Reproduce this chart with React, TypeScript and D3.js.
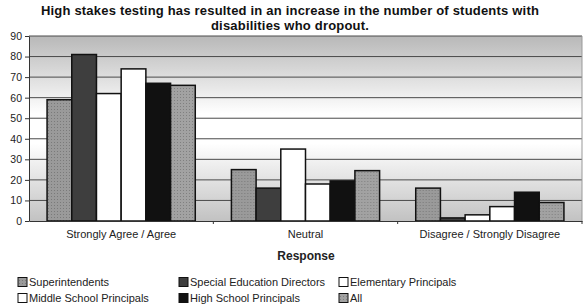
import React, { useEffect, useRef } from "react";
import * as d3 from "d3";

const categories = ["Strongly Agree / Agree", "Neutral", "Disagree / Strongly Disagree"];
const seriesNames = [
  "Superintendents",
  "Special Education Directors",
  "Elementary Principals",
  "Middle School Principals",
  "High School Principals",
  "All",
];
const superintendents = [59, 25, 16];
const specialEd = [81, 16, 1.5];
const elementary = [62, 35, 3];
const middle = [74, 18, 7];
const highSchool = [67, 19.5, 14];
const all = [66, 24.5, 9];
const yTicks = [0, 10, 20, 30, 40, 50, 60, 70, 80, 90];

const seriesValues = [superintendents, specialEd, elementary, middle, highSchool, all];
const fills = ["url(#dotA)", "#3e3e3e", "#ffffff", "#ffffff", "#111111", "url(#dotB)"];

const W = 585;
const H = 308;
const m = { top: 36, right: 3, bottom: 87, left: 29 };

const App = () => {
  const ref = useRef<SVGSVGElement>(null);

  useEffect(() => {
    const svg = d3.select(ref.current);
    svg.selectAll("*").remove();
    const font = "Arial, 'Liberation Sans', sans-serif";

    const defs = svg.append("defs");
    const grad = defs
      .append("linearGradient")
      .attr("id", "bg")
      .attr("x1", 0)
      .attr("y1", 0)
      .attr("x2", 0)
      .attr("y2", 1);
    grad.append("stop").attr("offset", "0%").attr("stop-color", "#b8b8b8");
    grad.append("stop").attr("offset", "42%").attr("stop-color", "#ffffff");
    grad.append("stop").attr("offset", "58%").attr("stop-color", "#ffffff");
    grad.append("stop").attr("offset", "100%").attr("stop-color", "#c2c2c2");

    [
      ["dotA", "#9a9a9a", "#7a7a7a"],
      ["dotB", "#a2a2a2", "#808080"],
    ].forEach(([id, base, dot]) => {
      const p = defs
        .append("pattern")
        .attr("id", id)
        .attr("width", 3)
        .attr("height", 3)
        .attr("patternUnits", "userSpaceOnUse");
      p.append("rect").attr("width", 3).attr("height", 3).attr("fill", base);
      p.append("rect").attr("x", 1).attr("y", 1).attr("width", 1).attr("height", 1).attr("fill", dot);
    });

    const x0 = d3
      .scaleBand<string>()
      .domain(categories)
      .range([m.left, W - m.right]);
    const inset = x0.bandwidth() * 0.098;
    const x1 = d3
      .scaleBand<string>()
      .domain(seriesNames)
      .range([inset, x0.bandwidth() - inset]);
    const y = d3
      .scaleLinear()
      .domain([0, 90])
      .range([H - m.bottom, m.top]);

    svg
      .append("rect")
      .attr("x", m.left)
      .attr("y", m.top)
      .attr("width", W - m.left - m.right)
      .attr("height", y(0) - m.top)
      .attr("fill", "url(#bg)");

    svg
      .append("g")
      .selectAll("line")
      .data(yTicks.filter((t) => t > 0))
      .join("line")
      .attr("x1", m.left)
      .attr("x2", W - m.right)
      .attr("y1", (d) => y(d))
      .attr("y2", (d) => y(d))
      .attr("stroke", "#4a4a4a")
      .attr("stroke-width", 1);

    svg
      .append("line")
      .attr("x1", W - m.right)
      .attr("x2", W - m.right)
      .attr("y1", m.top)
      .attr("y2", y(0))
      .attr("stroke", "#999");

    const groups = svg
      .append("g")
      .selectAll("g")
      .data(categories)
      .join("g")
      .attr("transform", (d) => `translate(${x0(d)},0)`);

    groups
      .selectAll("rect")
      .data((_, ci) => seriesNames.map((s, si) => ({ s, si, v: seriesValues[si][ci] })))
      .join("rect")
      .attr("x", (d) => x1(d.s)!)
      .attr("y", (d) => y(d.v))
      .attr("width", x1.bandwidth())
      .attr("height", (d) => y(0) - y(d.v))
      .attr("fill", (d) => fills[d.si])
      .attr("stroke", "#111")
      .attr("stroke-width", 1.5);

    const yAxis = svg
      .append("g")
      .attr("transform", `translate(${m.left},0)`)
      .call(d3.axisLeft(y).tickValues(yTicks).tickSize(4).tickSizeOuter(0).tickPadding(3));
    yAxis.select(".domain").attr("stroke", "#333");
    yAxis.selectAll("line").attr("stroke", "#333");
    yAxis
      .selectAll("text")
      .attr("font-family", font)
      .attr("font-size", 10.5)
      .attr("fill", "#222");

    const xAxis = svg
      .append("g")
      .attr("transform", `translate(0,${y(0)})`)
      .call(d3.axisBottom(x0).tickSize(0).tickSizeOuter(0).tickPadding(9));
    xAxis.select(".domain").attr("stroke", "#333");
    xAxis
      .selectAll("text")
      .attr("font-family", font)
      .attr("font-size", 11)
      .attr("fill", "#222");
    xAxis
      .append("g")
      .selectAll("line")
      .data(categories.slice(1).concat(["end"]))
      .join("line")
      .attr("x1", (d, i) => (i < 2 ? x0(d)! : W - m.right))
      .attr("x2", (d, i) => (i < 2 ? x0(d)! : W - m.right))
      .attr("y1", 0)
      .attr("y2", 3)
      .attr("stroke", "#333");

    svg
      .append("text")
      .attr("x", 306)
      .attr("y", 260)
      .attr("text-anchor", "middle")
      .attr("font-family", font)
      .attr("font-size", 12)
      .attr("font-weight", "bold")
      .attr("fill", "#222")
      .text("Response");

    const title = svg
      .append("text")
      .attr("text-anchor", "middle")
      .attr("font-family", font)
      .attr("font-size", 13)
      .attr("font-weight", "bold")
      .attr("letter-spacing", 0.2)
      .attr("fill", "#111");
    title.append("tspan").attr("x", 290).attr("y", 15).text(
      "High stakes testing has resulted in an increase in the number of students with"
    );
    title.append("tspan").attr("x", 290).attr("y", 30).text("disabilities who dropout.");

    const colX = [18, 179, 339];
    const rowY = [282, 298];
    const legend = svg
      .append("g")
      .selectAll("g")
      .data(seriesNames)
      .join("g")
      .attr("transform", (_, i) => `translate(${colX[i % 3]},${rowY[Math.floor(i / 3)]})`);
    legend
      .append("rect")
      .attr("x", 0)
      .attr("y", -4.5)
      .attr("width", 9)
      .attr("height", 9)
      .attr("fill", (_, i) => fills[i])
      .attr("stroke", "#111")
      .attr("stroke-width", 1);
    legend
      .append("text")
      .attr("x", 11)
      .attr("y", 0)
      .attr("dy", "0.35em")
      .attr("font-family", font)
      .attr("font-size", 11)
      .attr("fill", "#222")
      .text((d) => d);
  }, []);

  return (
    <svg
      ref={ref}
      width={W}
      height={H}
      style={{ position: "absolute", left: 0, top: 0, background: "#fff" }}
    />
  );
};

export default App;
